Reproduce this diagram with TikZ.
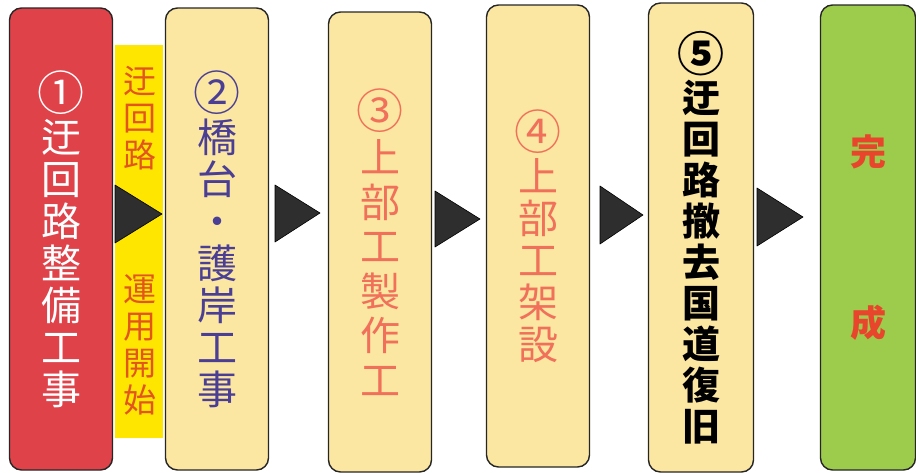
\documentclass[tikz,border=0pt]{standalone}
\usepackage{fontspec}
\newfontfamily\jp{Noto Sans CJK JP}
\newcommand\stepno[1]{{\fontsize{47}{42}\selectfont #1}}
\definecolor{stepred}{HTML}{E0424A}
\definecolor{stepcream}{HTML}{FBE6A2}
\definecolor{stepgreen}{HTML}{9DCB4C}
\definecolor{bandyellow}{HTML}{FFE600}
\definecolor{tipgray}{HTML}{2E2E2E}
\definecolor{txtorange}{HTML}{E2561E}
\definecolor{txtpurple}{HTML}{4B3F95}
\definecolor{txtsalmon}{HTML}{F0705A}
\definecolor{txtred}{HTML}{E8452C}
\begin{document}
\begin{tikzpicture}[x=1pt, y=-1pt,
    stepbox/.style={draw=black!85, line width=1.4pt, rounded corners=12pt, align=center,
        inner sep=0pt, minimum width=103pt, minimum height=462pt,
        font=\jp\fontsize{40}{42}\selectfont},
    bandtext/.style={align=center, inner sep=0pt, text=txtorange,
        font=\jp\fontsize{33}{37}\selectfont},
    tip/.style={fill=tipgray, draw=black, line width=0.6pt, line join=round}]

    \useasboundingbox (0,0) rectangle (916,472);

    %Umleitung Band
    \node[fill=bandyellow, minimum width=48pt, minimum height=393pt, inner sep=0pt] (band) at (139,241.5) {};
    \node[bandtext] (detour) at (140,118) {迂\\回\\路};
    \node[bandtext] (inuse) at (140,345) {運\\用\\開\\始};

    %Schritte
    \node[stepbox, fill=stepred, text=white] (s1) at (61,239) {\stepno{①}\\迂\\回\\路\\整\\備\\工\\事};
    \node[stepbox, fill=stepcream, text=txtpurple] (s2) at (217,239) {\stepno{②}\\橋\\台\\・\\護\\岸\\工\\事};
    \node[stepbox, fill=stepcream, text=txtsalmon, minimum height=460pt,
        font=\jp\fontsize{40}{44.5}\selectfont] (s3) at (380,242) {\stepno{③}\\上\\部\\工\\製\\作\\工};
    \node[stepbox, fill=stepcream, text=txtsalmon] (s4) at (538,236) {\stepno{④}\\上\\部\\工\\架\\設};
    \node[stepbox, fill=stepcream, text=black, minimum width=105pt, minimum height=469pt,
        font=\jp\bfseries\fontsize{38}{41}\selectfont] (s5) at (701,237.5) {\stepno{⑤}\\迂\\回\\路\\撤\\去\\国\\道\\復\\旧};
    \node[stepbox, fill=stepgreen, text=txtred, minimum width=95pt, minimum height=465pt,
        font=\jp\bfseries\fontsize{36}{40}\selectfont] (s6) at (868,237.5) {完\\[131pt]成};

    %Pfeile
    \draw[tip] (115,185) -- (162,214) -- (115,243) -- cycle;
    \draw[tip] (275,185) -- (320,213) -- (275,242) -- cycle;
    \draw[tip] (435,191) -- (480,219) -- (435,247) -- cycle;
    \draw[tip] (600,186) -- (643,215) -- (600,244) -- cycle;
    \draw[tip] (757,188) -- (803,217) -- (757,246) -- cycle;

\end{tikzpicture}
\end{document}
